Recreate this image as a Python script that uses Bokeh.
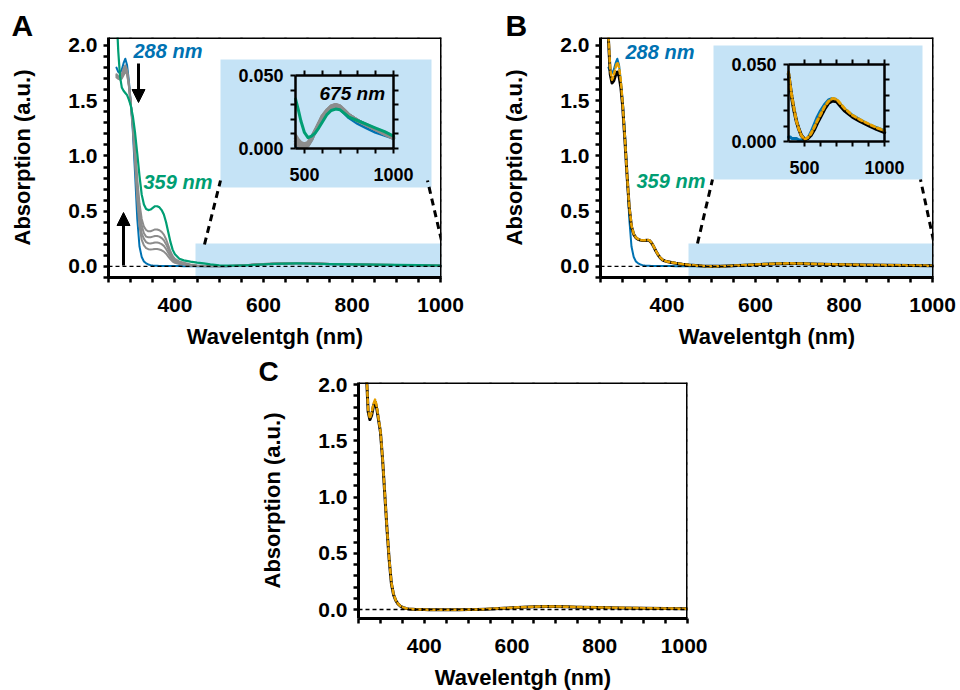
from bokeh.plotting import figure
from bokeh.models import (Range1d, LinearAxis, FixedTicker, NumeralTickFormatter,
                          Span, BoxAnnotation, Label, Arrow, NormalHead, Spacer)
from bokeh.layouts import row, column
from bokeh.embed import file_html
from bokeh.resources import INLINE

# ---------------- data ----------------
wavelength = [268, 272, 276, 280, 284, 288, 292, 296, 300,
              305, 310, 315, 320, 325, 330, 335, 340, 345, 350, 355, 360, 365, 370, 375, 380,
              385, 390, 395, 400,
              410, 420, 435, 450, 465, 480, 500, 520, 540, 560, 580, 600, 625, 650, 675, 700,
              725, 750, 800, 850, 900, 950, 1000]

# panel A / B : initial spectrum (288 nm band, blue)
abs_288 = [1.80, 1.76, 1.75, 1.78, 1.84, 1.88, 1.82, 1.68, 1.50,
           1.22, 0.84, 0.43, 0.18, 0.085, 0.045, 0.028, 0.018, 0.012, 0.009, 0.007, 0.006, 0.005,
           0.005, 0.004, 0.004, 0.004, 0.003, 0.003, 0.003,
           0.003, 0.002, 0.002, 0.002, 0.001, 0.001, 0.001, 0.002, 0.006, 0.011, 0.016, 0.020,
           0.024, 0.027, 0.028, 0.027, 0.024, 0.021, 0.017, 0.014, 0.011, 0.009, 0.007]

# panel A : intermediate spectra (grey)
abs_step1 = [1.74, 1.72, 1.72, 1.74, 1.79, 1.82, 1.78, 1.66, 1.49,
             1.26, 0.94, 0.60, 0.36, 0.24, 0.19, 0.166, 0.156, 0.153, 0.155, 0.158, 0.157, 0.153,
             0.146, 0.134, 0.115, 0.09, 0.064, 0.044, 0.033,
             0.022, 0.017, 0.008, 0.003, 0.002, 0.001, 0.001, 0.002, 0.006, 0.012, 0.017, 0.022,
             0.026, 0.029, 0.030, 0.029, 0.026, 0.023, 0.019, 0.016, 0.013, 0.010, 0.007]
abs_step2 = [1.73, 1.71, 1.71, 1.73, 1.77, 1.80, 1.76, 1.65, 1.49,
             1.27, 0.98, 0.66, 0.43, 0.30, 0.25, 0.22, 0.21, 0.208, 0.212, 0.217, 0.216, 0.212,
             0.202, 0.186, 0.158, 0.123, 0.088, 0.060, 0.045,
             0.029, 0.023, 0.011, 0.005, 0.003, 0.002, 0.001, 0.003, 0.007, 0.012, 0.017, 0.022,
             0.026, 0.029, 0.030, 0.029, 0.026, 0.023, 0.019, 0.016, 0.013, 0.010, 0.007]
abs_step3 = [1.72, 1.70, 1.70, 1.71, 1.75, 1.78, 1.75, 1.64, 1.48,
             1.29, 1.03, 0.73, 0.50, 0.37, 0.30, 0.27, 0.264, 0.264, 0.27, 0.276, 0.276, 0.27,
             0.257, 0.237, 0.202, 0.157, 0.112, 0.077, 0.057,
             0.036, 0.028, 0.014, 0.007, 0.005, 0.003, 0.002, 0.003, 0.007, 0.012, 0.017, 0.021,
             0.025, 0.028, 0.029, 0.028, 0.026, 0.023, 0.019, 0.016, 0.013, 0.010, 0.007]
abs_step4 = [1.71, 1.70, 1.69, 1.70, 1.73, 1.76, 1.74, 1.63, 1.48,
             1.31, 1.07, 0.79, 0.57, 0.43, 0.36, 0.33, 0.318, 0.319, 0.327, 0.335, 0.335, 0.328,
             0.313, 0.288, 0.246, 0.19, 0.135, 0.093, 0.068,
             0.044, 0.034, 0.017, 0.009, 0.006, 0.004, 0.003, 0.004, 0.008, 0.012, 0.016, 0.021,
             0.025, 0.028, 0.029, 0.028, 0.025, 0.023, 0.019, 0.016, 0.013, 0.011, 0.008]

# panel A : final spectrum (359 nm band, green)
abs_359 = [2.30, 1.95, 1.72, 1.62, 1.59, 1.57, 1.55, 1.51, 1.46,
           1.36, 1.21, 1.02, 0.82, 0.65, 0.56, 0.52, 0.51, 0.515, 0.53, 0.545, 0.545, 0.535,
           0.51, 0.47, 0.40, 0.31, 0.22, 0.15, 0.11,
           0.07, 0.055, 0.043, 0.034, 0.027, 0.019, 0.011, 0.0075, 0.0085, 0.0105, 0.014, 0.018,
           0.023, 0.026, 0.027, 0.0265, 0.024, 0.0215, 0.019, 0.0165, 0.014, 0.0115, 0.0085]

# panel B : black solid and orange dashed spectra
b_black = [2.05, 1.74, 1.66, 1.68, 1.73, 1.76, 1.72, 1.62, 1.45,
           1.15, 0.82, 0.53, 0.36, 0.29, 0.26, 0.245, 0.238, 0.234, 0.235, 0.238, 0.236, 0.215,
           0.18, 0.14, 0.105, 0.078, 0.06, 0.05, 0.044,
           0.036, 0.029, 0.020, 0.013, 0.008, 0.004, 0.0015, 0.002, 0.004, 0.0075, 0.012, 0.016,
           0.021, 0.025, 0.0265, 0.026, 0.023, 0.020, 0.016, 0.013, 0.0105, 0.008, 0.006]
b_orange = [2.08, 1.78, 1.69, 1.73, 1.80, 1.85, 1.80, 1.68, 1.48,
            1.17, 0.83, 0.54, 0.37, 0.295, 0.262, 0.248, 0.24, 0.236, 0.237, 0.24, 0.238, 0.218,
            0.182, 0.142, 0.107, 0.08, 0.061, 0.051, 0.045,
            0.037, 0.030, 0.021, 0.013, 0.008, 0.004, 0.0015, 0.0025, 0.005, 0.009, 0.0135, 0.0175,
            0.0225, 0.026, 0.028, 0.0275, 0.0245, 0.0215, 0.017, 0.014, 0.0115, 0.009, 0.007]

# panel C : black solid and orange dashed spectra
c_black = [2.10, 1.76, 1.69, 1.73, 1.81, 1.85, 1.78, 1.68, 1.58,
           1.33, 1.02, 0.71, 0.44, 0.23, 0.13, 0.08, 0.05, 0.032, 0.02, 0.013, 0.008, 0.005,
           0.003, 0.002, 0.001, 0.0, 0.0, -0.001, -0.001,
           -0.002, -0.003, -0.003, -0.003, -0.002, -0.002, -0.001, 0.0, 0.003, 0.007, 0.011, 0.015,
           0.020, 0.024, 0.026, 0.026, 0.024, 0.021, 0.017, 0.014, 0.011, 0.008, 0.006]
c_orange = [2.12, 1.78, 1.70, 1.75, 1.83, 1.87, 1.80, 1.69, 1.59,
            1.34, 1.03, 0.72, 0.45, 0.24, 0.135, 0.082, 0.052, 0.033, 0.021, 0.014, 0.009, 0.006,
            0.004, 0.002, 0.001, 0.0, 0.0, -0.001, -0.001,
            -0.002, -0.003, -0.003, -0.003, -0.002, -0.002, -0.001, 0.001, 0.004, 0.008, 0.012, 0.016,
            0.021, 0.025, 0.027, 0.027, 0.025, 0.022, 0.018, 0.015, 0.012, 0.009, 0.007]

# tick values
x_major = [400, 600, 800, 1000]
x_minor = [250, 300, 350, 450, 500, 550, 650, 700, 750, 850, 900, 950]
y_major = [0.0, 0.5, 1.0, 1.5, 2.0]
y_minor = [-0.1, 0.1, 0.2, 0.3, 0.4, 0.6, 0.7, 0.8, 0.9, 1.1, 1.2, 1.3, 1.4, 1.6, 1.7, 1.8, 1.9]
inset_x_major = [500, 1000]
inset_x_minor = [600, 700, 800, 900]
inset_y_major = [0.0, 0.05]
inset_y_minor = [0.01, 0.02, 0.03, 0.04]

# ---------------- style ----------------
FONT = "Liberation Sans"
BLUE = "#0072B2"
GREEN = "#009E73"
GRAY = "#8C8C8C"
ORANGE = "#E69F00"
SHADE = "#C5E3F6"


def style_axis(ax, size, line_w=3, tick_w=2.5, tick_len=5, standoff=6, show_labels=True):
    ax.axis_line_width = line_w
    ax.axis_line_color = "black"
    ax.major_tick_line_width = tick_w
    ax.minor_tick_line_width = tick_w
    ax.major_tick_line_color = "black"
    ax.minor_tick_line_color = "black"
    ax.major_tick_in = 0
    ax.major_tick_out = tick_len
    ax.minor_tick_in = 0
    ax.minor_tick_out = tick_len
    ax.major_label_text_font = FONT
    ax.major_label_text_font_style = "bold"
    ax.major_label_text_font_size = size
    ax.major_label_text_color = "black" if show_labels else None
    ax.major_label_standoff = standoff
    ax.axis_label_text_font = FONT
    ax.axis_label_text_font_style = "bold"
    ax.axis_label_text_font_size = "22px"
    ax.axis_label_text_color = "black"


class Panel:
    def __init__(self, fw, fh, xr, yr, borders, letter, letter_offset):
        left, right, top, bottom = borders
        self.fw, self.fh, self.xr, self.yr = fw, fh, xr, yr
        p = figure(frame_width=fw, frame_height=fh, x_range=Range1d(*xr), y_range=Range1d(*yr),
                   output_backend="svg", toolbar_location=None, title=letter,
                   min_border_left=left, min_border_right=right,
                   min_border_top=top, min_border_bottom=bottom)
        p.grid.visible = False
        p.outline_line_color = None
        # panel letter drawn as the figure title, shifted to the left margin
        p.title.align = "left"
        p.title.offset = letter_offset
        p.title.text_font = FONT
        p.title.text_font_style = "bold"
        p.title.text_font_size = "30px"
        p.title.text_color = "black"
        p.title.vertical_align = "bottom"
        p.title.standoff = -8
        xt = FixedTicker(ticks=x_major, minor_ticks=x_minor)
        yt = FixedTicker(ticks=y_major, minor_ticks=y_minor)
        xa, ya = p.xaxis[0], p.yaxis[0]
        xa.ticker = xt
        ya.ticker = yt
        ya.formatter = NumeralTickFormatter(format="0.0")
        xa.axis_label = "Wavelentgh (nm)"
        ya.axis_label = "Absorption (a.u.)"
        style_axis(xa, "21px", standoff=15)
        style_axis(ya, "21px", standoff=6)
        xa.axis_label_standoff = 9
        ya.axis_label_standoff = 30
        # mirrored axes (ticks only) at the frame edges; fixed location -> no extra space
        ra = LinearAxis(ticker=yt, fixed_location=xr[1])
        ta = LinearAxis(ticker=xt, fixed_location=yr[1])
        for ax in (ra, ta):
            style_axis(ax, "1px", standoff=0, show_labels=False)
        p.add_layout(ra, "right")
        p.add_layout(ta, "above")
        self.p = p

    # frame-relative pixel -> data
    def dx(self, px):
        return self.xr[0] + px * (self.xr[1] - self.xr[0]) / self.fw

    def dy(self, py):
        return self.yr[1] - py * (self.yr[1] - self.yr[0]) / self.fh

    def shade(self, l, r, t, b):
        self.p.add_layout(BoxAnnotation(left=self.dx(l), right=self.dx(r), top=self.dy(t),
                                        bottom=self.dy(b), fill_color=SHADE, fill_alpha=1.0,
                                        line_color=None, level="underlay"))

    def connector(self, a, b):
        self.p.segment(x0=[self.dx(a[0])], y0=[self.dy(a[1])], x1=[self.dx(b[0])], y1=[self.dy(b[1])],
                       line_color="black", line_width=3, line_dash="7 5")

    def text(self, px, py, s, color, size="20px"):
        self.p.add_layout(Label(x=self.dx(px), y=self.dy(py), text=s, text_color=color,
                                text_font=FONT, text_font_style="bold italic",
                                text_font_size=size, text_baseline="middle", text_align="left"))

    def arrow(self, px, py0, py1):
        self.p.add_layout(Arrow(end=NormalHead(size=13, fill_color="black", line_color="black"),
                                x_start=self.dx(px), y_start=self.dy(py0),
                                x_end=self.dx(px), y_end=self.dy(py1),
                                line_color="black", line_width=3))

    def zero_line(self):
        self.p.add_layout(Span(location=0, dimension="width", line_color="black",
                               line_dash="4 3", line_width=1.3))

    def inset(self, box, xl, yl):
        l, r, t, b = box
        x0, x1 = xl
        y0, y1 = yl
        sx = (x1 - x0) / (r - l)
        sy = (y1 - y0) / (b - t)
        self.p.extra_x_ranges = {"ix": Range1d(x0 - l * sx, x1 + (self.fw - r) * sx)}
        self.p.extra_y_ranges = {"iy": Range1d(y0 - (self.fh - b) * sy, y1 + t * sy)}
        xt = FixedTicker(ticks=inset_x_major, minor_ticks=inset_x_minor)
        yt = FixedTicker(ticks=inset_y_major, minor_ticks=inset_y_minor)
        c = dict(x_range_name="ix", y_range_name="iy")
        axes = [
            (LinearAxis(ticker=yt, fixed_location=x0, bounds=(y0, y1),
                        formatter=NumeralTickFormatter(format="0.000"), **c), "left", True, 7),
            (LinearAxis(ticker=yt, fixed_location=x1, bounds=(y0, y1), **c), "right", False, 0),
            (LinearAxis(ticker=xt, fixed_location=y0, bounds=(x0, x1), **c), "below", True, 14),
            (LinearAxis(ticker=xt, fixed_location=y1, bounds=(x0, x1), **c), "above", False, 0),
        ]
        for ax, side, show, so in axes:
            style_axis(ax, "18px" if show else "1px", line_w=2.5, tick_w=2, tick_len=5,
                       standoff=so, show_labels=show)
            self.p.add_layout(ax, side)
        self.ix0 = x0

    def inset_line(self, ys, color, width, dash="solid"):
        idx = [i for i, w in enumerate(wavelength) if w >= self.ix0]
        self.p.line([wavelength[i] for i in idx], [ys[i] for i in idx], line_color=color,
                    line_width=width, line_dash=dash, line_join="round", line_cap="round",
                    x_range_name="ix", y_range_name="iy")

    def line(self, ys, color, width, dash="solid"):
        self.p.line(wavelength, ys, line_color=color, line_width=width, line_dash=dash,
                    line_join="round", line_cap="round")


XR = (250, 1002)
YR = (-0.1, 2.072)

# ---------------- panel A ----------------
A = Panel(333, 240, XR, YR, (108, 51, 37, 73), "A", -97)
A.shade(87, 333, 206, 240)
A.shade(112, 323, 22, 150)
A.line(abs_288, BLUE, 2)
for g in (abs_step1, abs_step2, abs_step3, abs_step4):
    A.line(g, GRAY, 2)
A.line(abs_359, GREEN, 2.2)
A.connector((96, 207), (112, 143))
A.connector((333, 203), (319, 143))
A.inset((187, 285, 38, 111), (450, 1000), (0.0, 0.05))
A.inset_line(abs_288, BLUE, 3)
for g in (abs_step1, abs_step2, abs_step3, abs_step4):
    A.inset_line(g, GRAY, 3.5)
A.inset_line(abs_359, GREEN, 3)
A.p.add_layout(Label(x=585, y=0.0377, x_range_name="ix", y_range_name="iy", text="675 nm",
                     text_color="black", text_font=FONT, text_font_style="bold italic",
                     text_font_size="19px", text_baseline="middle", text_align="left"))
A.text(25, 13, "288 nm", BLUE)
A.text(35, 144, "359 nm", GREEN)
A.arrow(30, 26, 65)
A.arrow(15, 228, 175)
A.zero_line()

# ---------------- panel B ----------------
B = Panel(333, 240, XR, YR, (108, 27, 37, 73), "B", -95)
B.shade(88, 333, 206, 240)
B.shade(113, 322, 8, 142)
B.line(abs_288, BLUE, 2)
B.line(b_black, "black", 3)
B.line(b_orange, ORANGE, 2.5, "4 3")
B.connector((97, 206), (112, 142))
B.connector((333, 203), (320, 142))
B.inset((188, 284, 27, 104), (400, 1000), (0.0, 0.05))
B.inset_line(abs_288, BLUE, 3)
B.inset_line(b_black, "black", 3.5)
B.inset_line(b_orange, ORANGE, 3, "4 3")
B.text(25, 14, "288 nm", BLUE)
B.text(36, 143, "359 nm", GREEN)
B.zero_line()

# ---------------- panel C ----------------
C = Panel(329, 236, (250, 1000), (-0.08, 2.02), (108, 20, 31, 73), "C", -100)
C.p.title.text_font_size = "28px"
C.line(c_black, "black", 3)
C.line(c_orange, ORANGE, 2.5, "4 3")
C.zero_line()

layout = column(row(A.p, B.p), row(Spacer(width=250, height=340), C.p))

open("out.html", "w").write(file_html(layout, INLINE, "Absorption spectra"))
